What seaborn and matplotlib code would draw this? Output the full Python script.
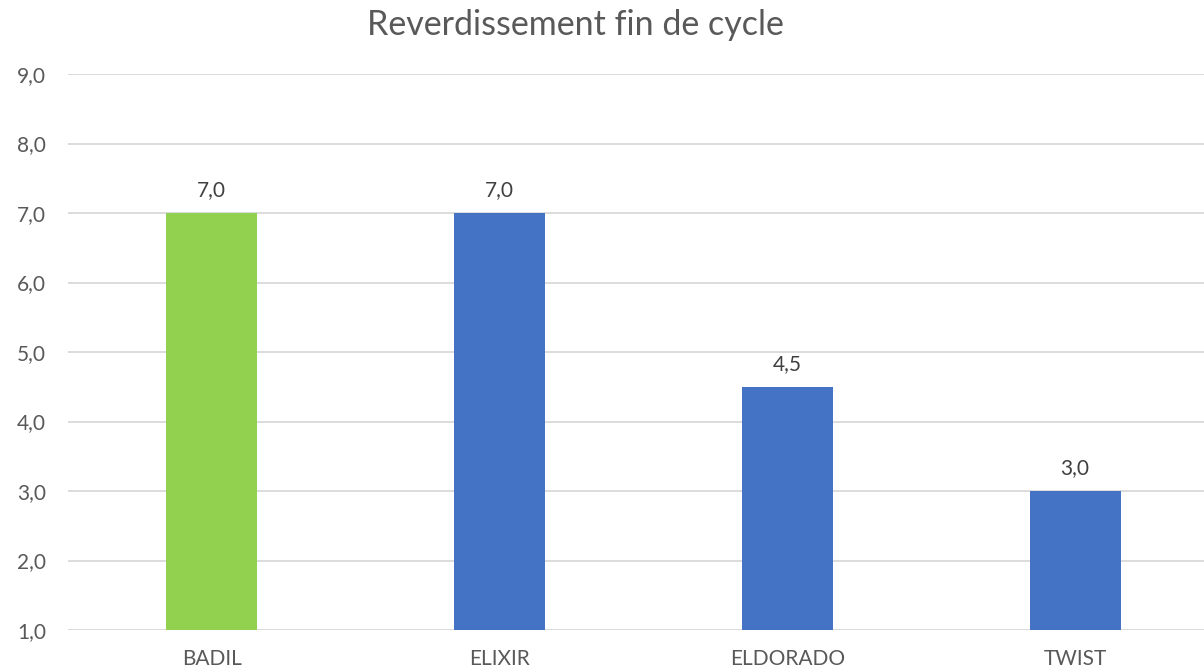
import matplotlib
matplotlib.use("Agg")
import matplotlib.pyplot as plt
import seaborn as sns
import pandas as pd

# chart data
varieties = ["BADIL", "ELIXIR", "ELDORADO", "TWIST"]
scores = [7.0, 7.0, 4.5, 3.0]
bar_colors = ["#92D050", "#4472C4", "#4472C4", "#4472C4"]
y_ticks = [1, 2, 3, 4, 5, 6, 7, 8, 9]

sns.set_theme(style="white")
plt.rcParams["font.family"] = ["Lato", "DejaVu Sans"]

df = pd.DataFrame({"variete": varieties, "note": scores})

fig = plt.figure(figsize=(12.04, 6.72), dpi=100)
ax = fig.add_axes([68 / 1204, 1 - 630 / 672, 1151 / 1204, (630 - 74) / 672])

sns.barplot(data=df, x="variete", y="note", hue="variete",
            palette=bar_colors, width=0.316, legend=False, ax=ax,
            saturation=1, linewidth=0)

ax.set_ylim(1, 9)
ax.set_xlim(-0.5, 3.5)
ax.set_yticks(y_ticks)
ax.set_yticklabels([f"{v:.1f}".replace(".", ",") for v in y_ticks])
ax.yaxis.grid(True, color="#D9D9D9", linewidth=1.3)
ax.set_axisbelow(True)
for s in ax.spines.values():
    s.set_visible(False)
ax.tick_params(axis="y", length=0, pad=16, labelsize=15, labelcolor="#595959")
ax.tick_params(axis="x", length=0, pad=14, labelsize=15, labelcolor="#595959")
ax.set_xlabel("")
ax.set_ylabel("")

for i, v in enumerate(scores):
    ax.annotate(f"{v:.1f}".replace(".", ","), (i, v), xytext=(0, 9),
                textcoords="offset points", ha="center", va="bottom",
                fontsize=15, color="#404040")

fig.text(575 / 1204, 1 - 25 / 672, "Reverdissement fin de cycle",
         ha="center", va="center", fontsize=24.5, color="#595959")

fig.savefig("out.png", dpi=100)
